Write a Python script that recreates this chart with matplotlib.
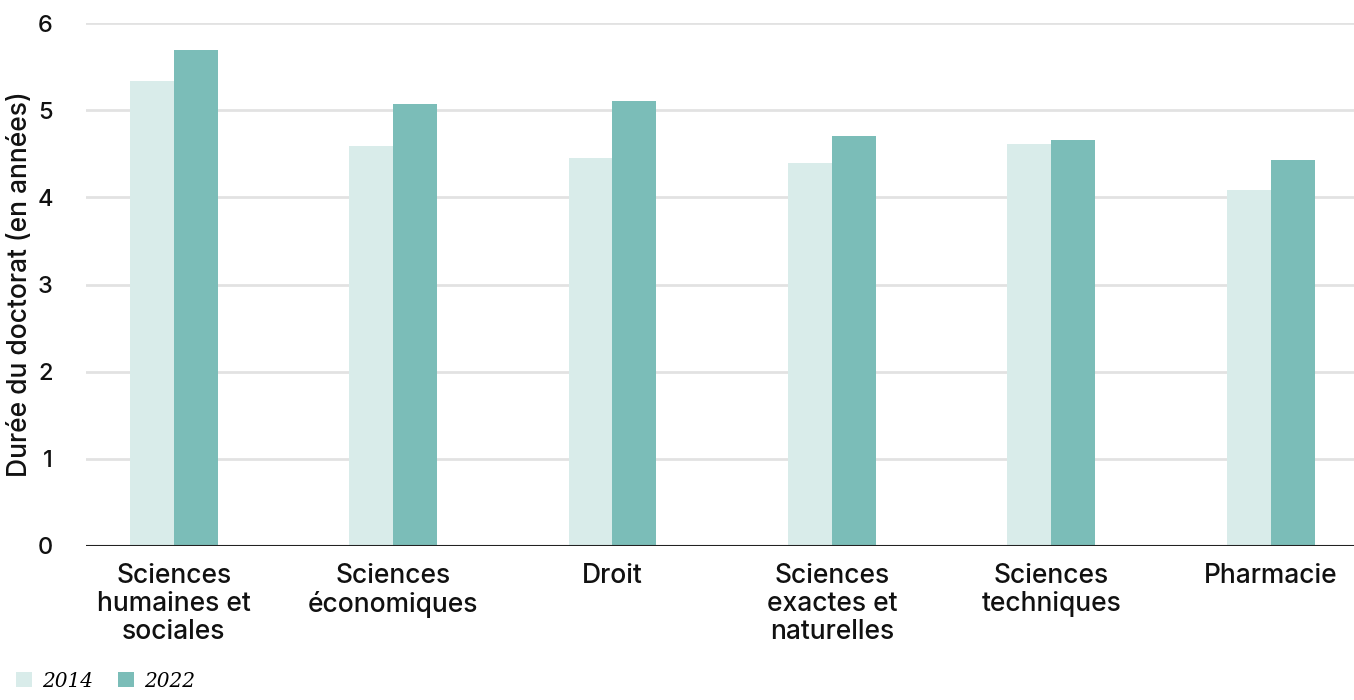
import numpy as np
import matplotlib.pyplot as plt

# Données
categories = ['Sciences\nhumaines et\nsociales', 'Sciences\néconomiques', 'Droit',
              'Sciences\nexactes et\nnaturelles', 'Sciences\ntechniques', 'Pharmacie']
values_2014 = [5.34, 4.59, 4.45, 4.40, 4.61, 4.08]
values_2022 = [5.69, 5.07, 5.11, 4.70, 4.66, 4.43]
years = ['2014', '2022']

plt.rcParams['font.family'] = ['Inter', 'DejaVu Sans']

fig = plt.figure(figsize=(13.54, 7), dpi=100)
ax = fig.add_axes([0.0635, 0.22, 0.9365, 0.747])

x = np.arange(len(categories))
w = 0.2
ax.bar(x - w / 2, values_2014, w, color='#d9ecea', label=years[0], zorder=3)
ax.bar(x + w / 2, values_2022, w, color='#7bbdb8', label=years[1], zorder=3)

ax.set_xlim(-0.4, 5.38)
ax.set_ylim(0, 6)
ax.set_yticks(range(7))
ax.yaxis.grid(True, color='#e2e2e2', linewidth=2, zorder=0)
ax.axhline(0, color='#222222', linewidth=1.5, zorder=4)
for s in ax.spines.values():
    s.set_visible(False)
ax.tick_params(axis='both', length=0, colors='#111111')
ax.tick_params(axis='x', pad=12, labelsize=19)
ax.tick_params(axis='y', pad=24, labelsize=17)
ax.set_xticks(x)
ax.set_xticklabels(categories, linespacing=1.1, fontweight='medium')
for t in ax.get_yticklabels():
    t.set_fontweight('medium')
ax.set_ylabel('Durée du doctorat (en années)', fontsize=19, fontweight='medium',
              color='#111111', labelpad=3)

fig.legend(loc='lower left', bbox_to_anchor=(0.006, 0.002), ncol=2, frameon=False,
           borderaxespad=0,
           prop={'family': 'DejaVu Serif', 'style': 'italic', 'size': 14.5},
           handlelength=0.8, handleheight=0.8, handletextpad=0.5, columnspacing=1.2)

fig.savefig('out.png', dpi=100)
